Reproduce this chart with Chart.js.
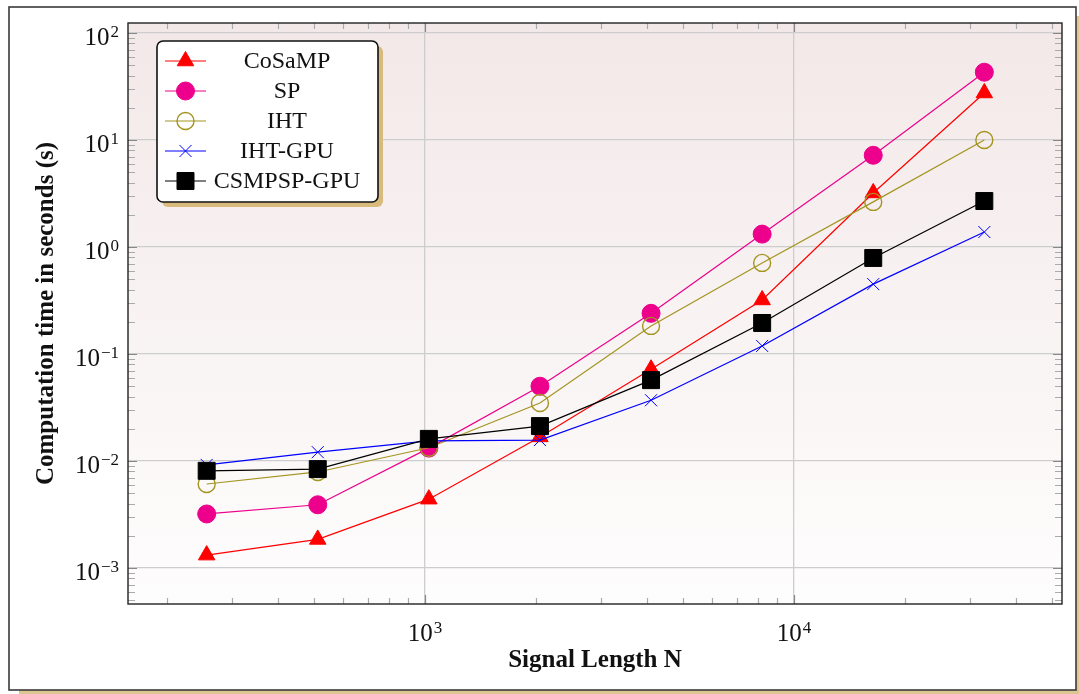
<!DOCTYPE html>
<html>
<head>
<meta charset="utf-8">
<script src="https://cdn.jsdelivr.net/npm/chart.js@4/dist/chart.umd.min.js"></script>
<style>
  html, body { margin: 0; padding: 0; background: #fff; }
  canvas { display: block; }
</style>
</head>
<body>
<canvas id="timeChart" width="1079" height="694"></canvas>
<script>
// signal lengths and run times (seconds) per algorithm
const sizes = [256, 512, 1024, 2048, 4096, 8192, 16384, 32768];
const cosamp = [0.00132, 0.00185, 0.0044, 0.0168, 0.072, 0.32, 3.2, 27.5];
const sp = [0.0032, 0.0039, 0.0132, 0.050, 0.24, 1.32, 7.2, 43];
const iht = [0.0061, 0.0079, 0.0133, 0.0348, 0.183, 0.71, 2.64, 10.0];
const ihtGpu = [0.0092, 0.0121, 0.0154, 0.0157, 0.037, 0.119, 0.45, 1.38];
const csmpspGpu = [0.0081, 0.0084, 0.0161, 0.0212, 0.057, 0.195, 0.79, 2.69];

const xDecades = [3, 4];
const yDecades = [-3, -2, -1, 0, 1, 2];
const xTitle = 'Signal Length N';
const yTitle = 'Computation time in seconds (s)';

const SERIF = '"Liberation Serif", "DejaVu Serif", serif';

function pts(ys) {
  return sizes.map((x, i) => ({ x: x, y: ys[i] }));
}

function isDecade(v) {
  const l = Math.log10(v);
  return Math.abs(l - Math.round(l)) < 1e-6;
}

function gridColor(c) {
  return c.tick && isDecade(c.tick.value) ? '#cdcdcd' : 'rgba(0,0,0,0)';
}

// "10" with a raised exponent
function drawPow(ctx, exp, x, y, align) {
  const base = '10';
  const sup = exp < 0 ? '\u2212' + Math.abs(exp) : String(exp);
  ctx.font = '25px ' + SERIF;
  const w1 = ctx.measureText(base).width;
  ctx.font = '17px ' + SERIF;
  const w2 = ctx.measureText(sup).width;
  const total = w1 + 1 + w2;
  let x0 = align === 'right' ? x - total : x - total / 2;
  ctx.fillStyle = '#111';
  ctx.textAlign = 'left';
  ctx.textBaseline = 'alphabetic';
  ctx.font = '25px ' + SERIF;
  ctx.fillText(base, x0, y);
  ctx.font = '17px ' + SERIF;
  ctx.fillText(sup, x0 + w1 + 1, y - 8);
}

const decor = {
  id: 'decor',
  beforeDraw(chart) {
    const ctx = chart.ctx;
    const a = chart.chartArea;
    ctx.save();
    ctx.fillStyle = '#fff';
    ctx.fillRect(0, 0, chart.width, chart.height);
    // page frame with its shadow
    ctx.fillStyle = '#dcc691';
    ctx.fillRect(19, 16, 1060, 678);
    ctx.fillStyle = '#fff';
    ctx.fillRect(9, 7, 1067, 683);
    ctx.strokeStyle = '#3a3a3a';
    ctx.lineWidth = 1.6;
    ctx.strokeRect(9, 7, 1067, 683);
    // plot background
    const g = ctx.createLinearGradient(0, a.top, 0, a.bottom);
    g.addColorStop(0, '#f3e8e8');
    g.addColorStop(1, '#fefdfd');
    ctx.fillStyle = g;
    ctx.fillRect(a.left, a.top, a.right - a.left, a.bottom - a.top);
    ctx.restore();
  },
  afterDraw(chart) {
    const ctx = chart.ctx;
    const a = chart.chartArea;
    const xs = chart.scales.x;
    const ys = chart.scales.y;
    ctx.save();

    // inward ticks on all four sides
    ctx.lineWidth = 1.2;
    for (let d = 2; d <= 4; d++) {
      for (let m = 1; m <= 9; m++) {
        const v = m * Math.pow(10, d);
        if (v < xs.min || v > xs.max) continue;
        const px = Math.round(xs.getPixelForValue(v)) + 0.5;
        const len = m === 1 ? 9 : 6;
        ctx.strokeStyle = m === 1 ? '#888' : '#aaa';
        ctx.beginPath();
        ctx.moveTo(px, a.bottom); ctx.lineTo(px, a.bottom - len);
        ctx.moveTo(px, a.top); ctx.lineTo(px, a.top + len);
        ctx.stroke();
      }
    }
    for (let d = -4; d <= 2; d++) {
      for (let m = 1; m <= 9; m++) {
        const v = m * Math.pow(10, d);
        if (v < ys.min || v > ys.max) continue;
        const py = Math.round(ys.getPixelForValue(v)) + 0.5;
        const len = m === 1 ? 9 : 7;
        ctx.strokeStyle = m === 1 ? '#888' : '#aaa';
        ctx.beginPath();
        ctx.moveTo(a.left, py); ctx.lineTo(a.left + len, py);
        ctx.moveTo(a.right, py); ctx.lineTo(a.right - len, py);
        ctx.stroke();
      }
    }

    ctx.strokeStyle = '#222';
    ctx.lineWidth = 1.4;
    ctx.strokeRect(a.left, a.top, a.right - a.left, a.bottom - a.top);

    // tick labels
    xDecades.forEach(e => drawPow(ctx, e, xs.getPixelForValue(Math.pow(10, e)), a.bottom + 37, 'center'));
    yDecades.forEach(e => drawPow(ctx, e, a.left - 9, ys.getPixelForValue(Math.pow(10, e)) + 12, 'right'));

    // axis titles
    ctx.fillStyle = '#111';
    ctx.font = 'bold 25px ' + SERIF;
    ctx.textAlign = 'center';
    ctx.textBaseline = 'middle';
    ctx.fillText(xTitle, (a.left + a.right) / 2, 661);
    ctx.translate(47, (a.top + a.bottom) / 2);
    ctx.rotate(-Math.PI / 2);
    ctx.fillText(yTitle, 0, 0);
    ctx.setTransform(1, 0, 0, 1, 0, 0);

    // legend box
    const bx = 157, by = 41, bw = 221, bh = 161;
    ctx.fillStyle = '#d8bb7c';
    ctx.beginPath();
    ctx.roundRect(bx + 5, by + 5, bw, bh, 6);
    ctx.fill();
    ctx.fillStyle = '#fff';
    ctx.strokeStyle = '#111';
    ctx.lineWidth = 1.6;
    ctx.beginPath();
    ctx.roundRect(bx, by, bw, bh, 6);
    ctx.fill();
    ctx.stroke();

    const order = [0, 1, 2, 3, 4];
    order.forEach((i, row) => {
      const ds = chart.data.datasets[i];
      const y = 61 + row * 30;
      ctx.strokeStyle = ds.borderColor;
      ctx.lineWidth = ds.borderWidth;
      ctx.beginPath();
      ctx.moveTo(165, y); ctx.lineTo(206, y);
      ctx.stroke();
      ctx.fillStyle = ds.pointBackgroundColor;
      ctx.strokeStyle = ds.pointBorderColor;
      ctx.lineWidth = ds.pointBorderWidth;
      Chart.helpers.drawPoint(ctx, {
        pointStyle: ds.pointStyle,
        radius: ds.pointRadius,
        rotation: 0,
        borderWidth: ds.pointBorderWidth
      }, 185.5, y);
      ctx.fillStyle = '#111';
      ctx.font = '24px ' + SERIF;
      ctx.textAlign = 'center';
      ctx.textBaseline = 'middle';
      ctx.fillText(ds.label, 287, y + 1);
    });

    ctx.restore();
  }
};

function series(label, ys, color, style, radius, fill, order) {
  return {
    label: label,
    data: pts(ys),
    borderColor: color,
    borderWidth: 1.2,
    pointStyle: style,
    pointRadius: radius,
    pointBackgroundColor: fill,
    pointBorderColor: color,
    pointBorderWidth: style === 'circle' && fill === 'rgba(0,0,0,0)' ? 1.4 : 1,
    tension: 0,
    fill: false,
    order: order
  };
}

new Chart(document.getElementById('timeChart'), {
  type: 'line',
  data: {
    datasets: [
      series('CoSaMP', cosamp, '#ff0000', 'triangle', 9.5, '#ff0000', 5),
      series('SP', sp, '#ec008c', 'circle', 9, '#ec008c', 4),
      series('IHT', iht, '#a39520', 'circle', 8.5, 'rgba(0,0,0,0)', 3),
      series('IHT-GPU', ihtGpu, '#0000ff', 'crossRot', 8.5, '#0000ff', 2),
      series('CSMPSP-GPU', csmpspGpu, '#000000', 'rect', 12, '#000000', 1)
    ]
  },
  options: {
    responsive: false,
    animation: false,
    events: [],
    layout: { padding: { left: 0, top: 23, right: 17, bottom: 0 } },
    plugins: {
      legend: { display: false },
      tooltip: { enabled: false }
    },
    scales: {
      x: {
        type: 'logarithmic',
        min: 156.7,
        max: 53200,
        ticks: { display: false },
        grid: { color: gridColor, lineWidth: 1.3, drawTicks: false },
        border: { display: false },
        afterFit: s => { s.height = 90; }
      },
      y: {
        type: 'logarithmic',
        min: 4.61e-4,
        max: 124,
        ticks: { display: false },
        grid: { color: gridColor, lineWidth: 1.3, drawTicks: false },
        border: { display: false },
        afterFit: s => { s.width = 128; }
      }
    }
  },
  plugins: [decor]
});
</script>
</body>
</html>
